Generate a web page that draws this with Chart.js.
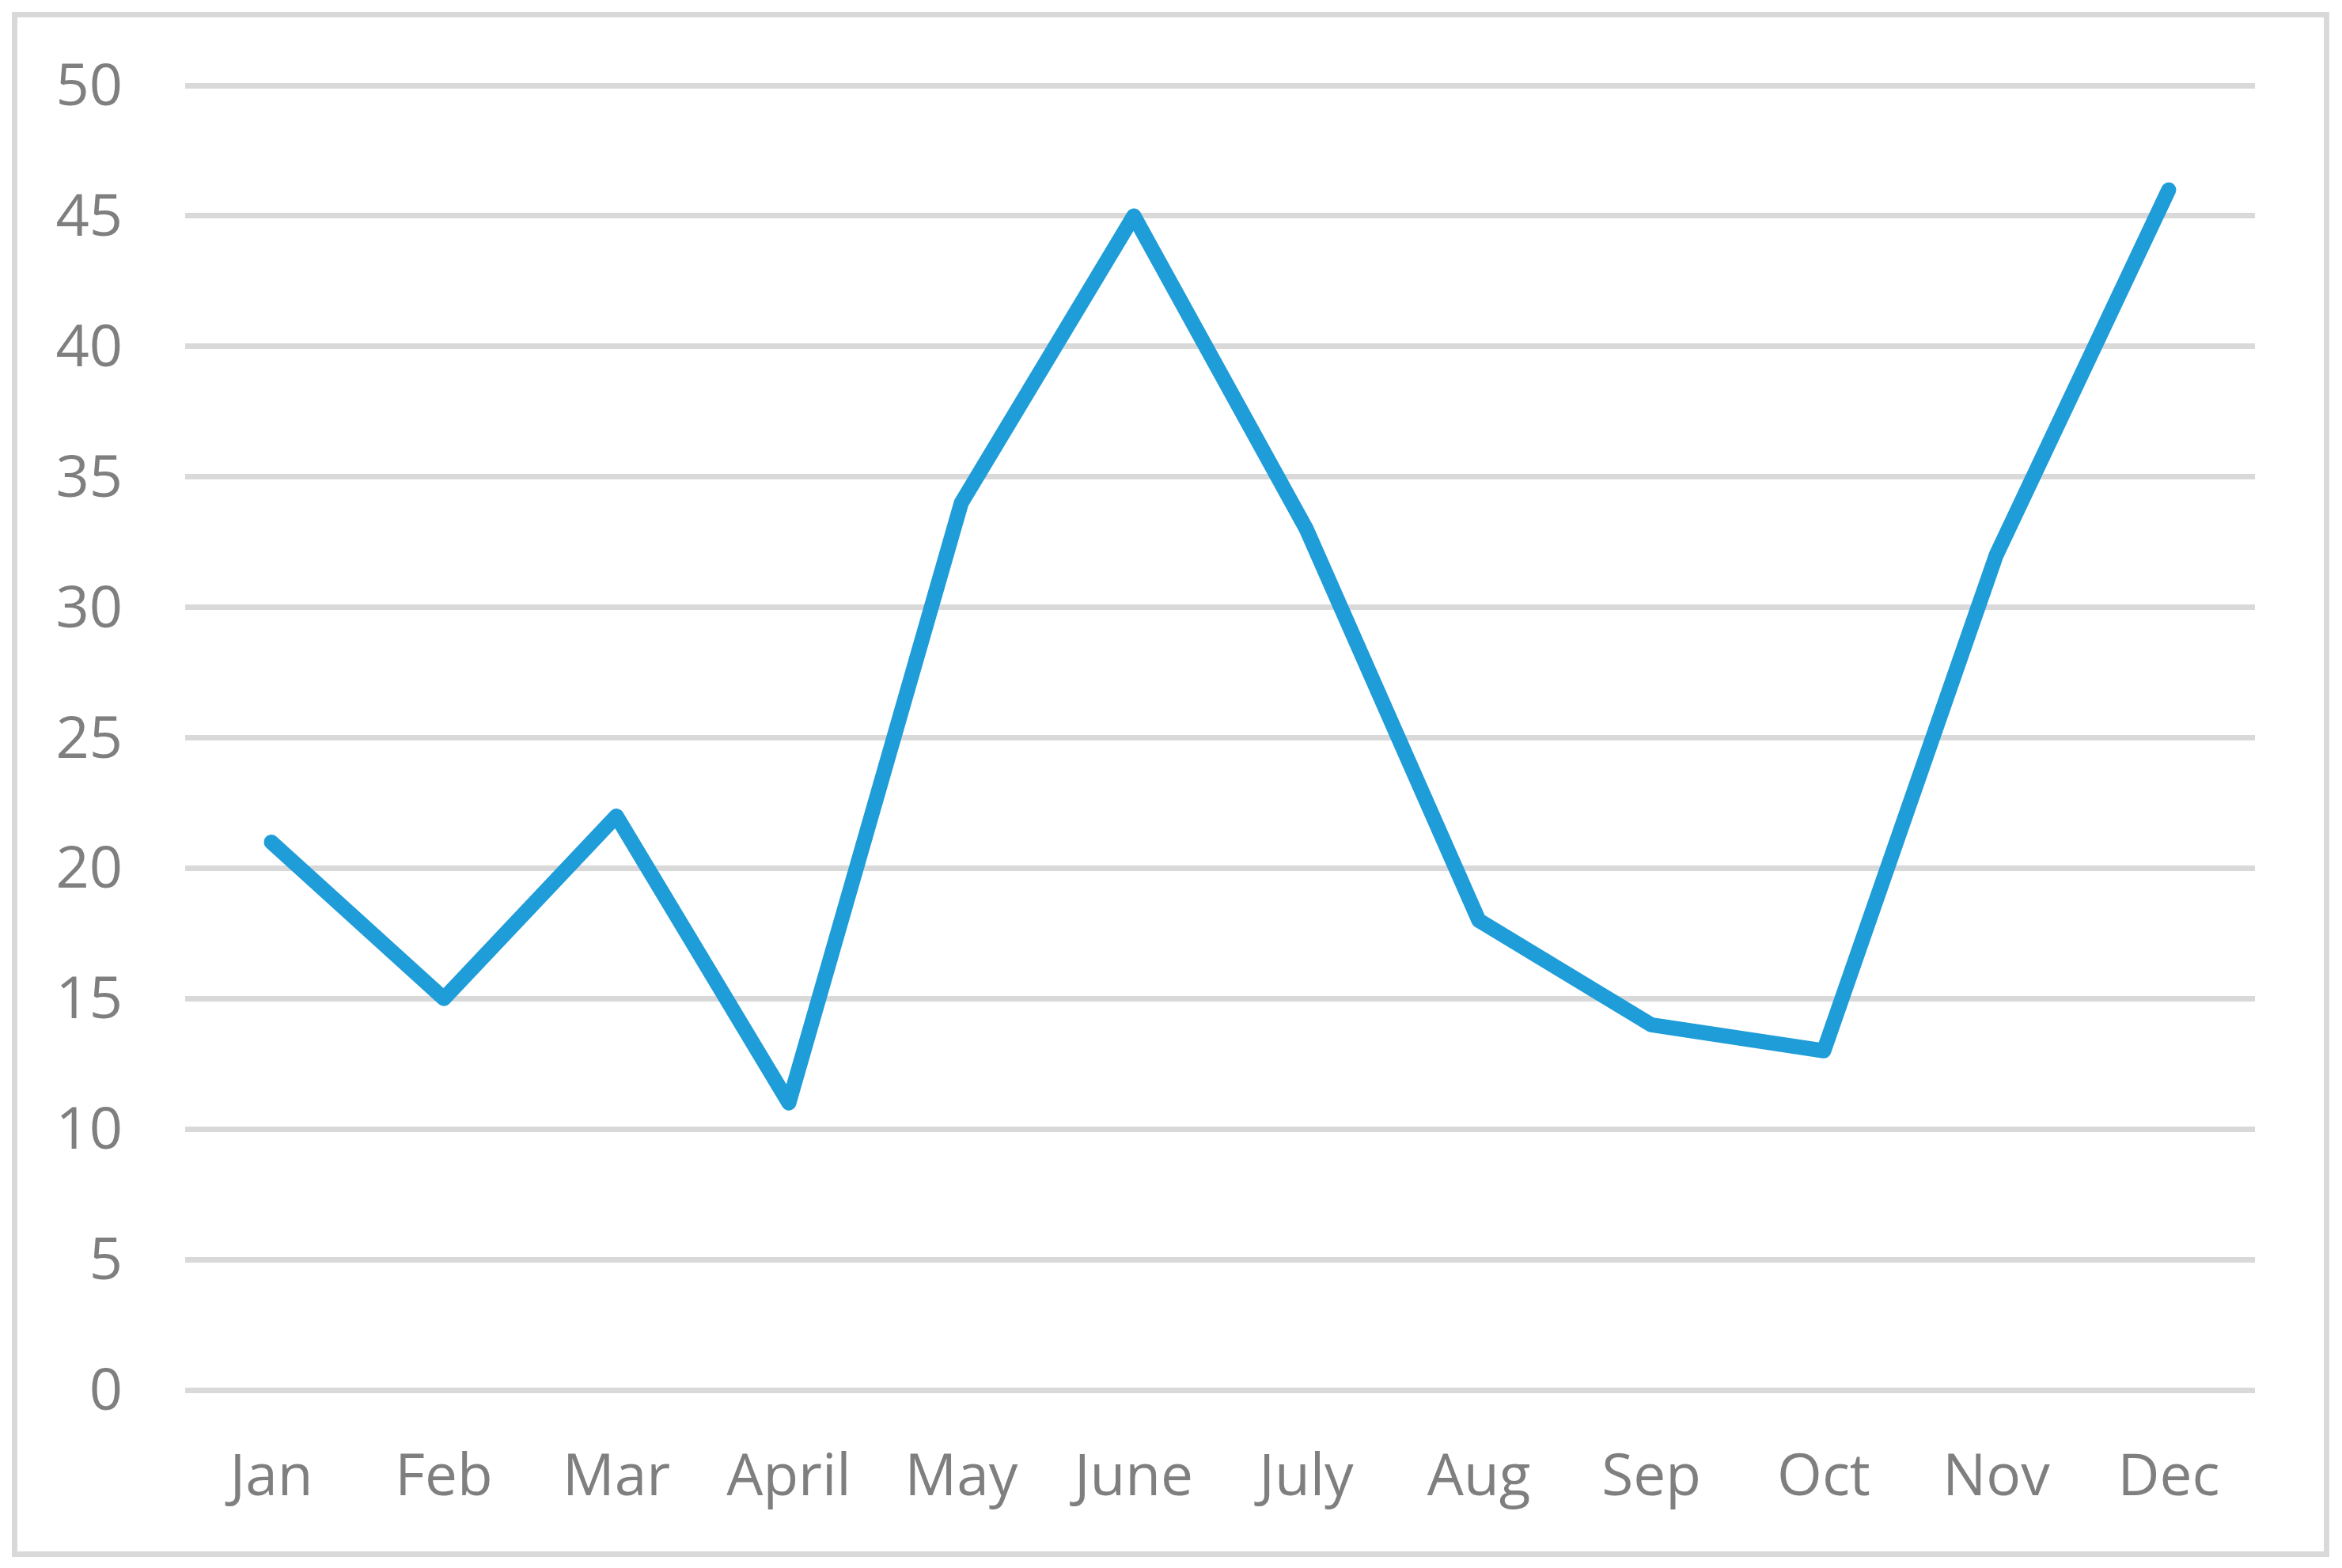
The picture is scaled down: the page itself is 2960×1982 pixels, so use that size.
<!DOCTYPE html>
<html>
<head>
<meta charset="utf-8">
<script src="https://cdn.jsdelivr.net/npm/chart.js@4"></script>
<style>
    html, body { margin: 0; padding: 0; background: #ffffff; }
    #frame {
        position: absolute;
        left: 15px; top: 15px;
        width: 2929px; height: 1953px;
        box-sizing: border-box;
        border: 7px solid #d9d9d9;
    }
    #wrap { position: absolute; left: 0; top: 0; width: 2960px; height: 1982px; }
</style>
</head>
<body>
<div id="frame"></div>
<div id="wrap"><canvas id="chart" width="2960" height="1982"></canvas></div>
<script>
const months = ["Jan", "Feb", "Mar", "April", "May", "June", "July", "Aug", "Sep", "Oct", "Nov", "Dec"];
const values = [21, 15, 22, 11, 34, 45, 33, 18, 14, 13, 32, 46];
const yTicks = [0, 5, 10, 15, 20, 25, 30, 35, 40, 45, 50];

const labelColor = '#7f7f7f';
const gridColor = '#d9d9d9';
const lineColor = '#1f9dd9';

document.addEventListener("DOMContentLoaded", () => {
    const ctx = document.getElementById('chart').getContext('2d');
    new Chart(ctx, {
        type: 'line',
        data: {
            labels: months,
            datasets: [{
                data: values,
                borderColor: lineColor,
                borderWidth: 19,
                borderCapStyle: 'round',
                borderJoinStyle: 'round',
                pointRadius: 0,
                tension: 0,
                fill: false
            }]
        },
        options: {
            responsive: false,
            animation: false,
            layout: {
                padding: { left: 0, right: 110, top: 108, bottom: 0 }
            },
            plugins: {
                legend: { display: false },
                tooltip: { enabled: false }
            },
            scales: {
                x: {
                    offset: true,
                    grid: { display: false, drawTicks: false },
                    border: { display: false },
                    ticks: {
                        color: labelColor,
                        font: { family: 'Open Sans', size: 73 },
                        padding: 68,
                        maxRotation: 0,
                        autoSkip: false
                    },
                    afterFit: axis => { axis.height = 225; }
                },
                y: {
                    min: 0,
                    max: 50,
                    afterBuildTicks: axis => {
                        axis.ticks = yTicks.map(v => ({ value: v }));
                    },
                    grid: { color: gridColor, lineWidth: 7, drawTicks: false },
                    border: { display: false },
                    ticks: {
                        color: labelColor,
                        font: { family: 'Open Sans', size: 74 },
                        padding: 79,
                        labelOffset: 4
                    },
                    afterFit: axis => {
                        axis.width = 234;
                        axis.paddingTop = 0;
                        axis.paddingBottom = 0;
                    }
                }
            }
        }
    });
});
</script>
</body>
</html>
